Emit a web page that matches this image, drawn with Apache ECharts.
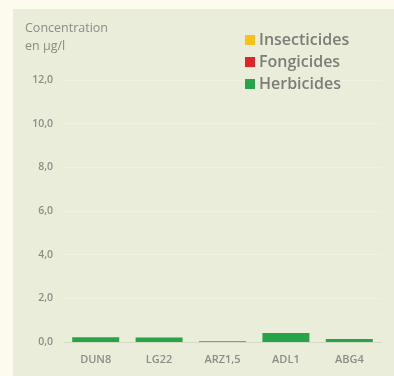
<!DOCTYPE html>
<html>
<head>
<meta charset="utf-8">
<script src="https://cdn.jsdelivr.net/npm/echarts@6/dist/echarts.min.js"></script>
<style>
  html, body { margin: 0; padding: 0; background: #fdfbee; }
  #chart { width: 394px; height: 376px; }
</style>
</head>
<body>
<div id="chart"></div>
<script>
// Sampling sites and measured concentrations (µg/l) per pesticide family
const categories = ['DUN8', 'LG22', 'ARZ1,5', 'ADL1', 'ABG4'];
const insecticides = [0, 0, 0, 0, 0];
const fongicides = [0, 0, 0, 0, 0];
const herbicides = [0.22, 0.21, 0.04, 0.41, 0.14];
const yTicks = [0, 2, 4, 6, 8, 10, 12];

const chart = echarts.init(document.getElementById('chart'), null, { renderer: 'canvas' });

const fmt = v => v.toFixed(1).replace('.', ',');

chart.setOption({
  backgroundColor: '#fdfbee',
  animation: false,
  textStyle: { fontFamily: 'Open Sans' },
  graphic: [{
    type: 'rect',
    z: -10,
    silent: true,
    shape: { x: 13, y: 9, width: 381, height: 367 },
    style: { fill: '#e9edda' }
  }],
  title: {
    text: 'Concentration\nen µg/l',
    left: 20,
    top: 14,
    textStyle: { fontSize: 12.5, fontWeight: 'normal', color: '#8a8d84', lineHeight: 18, fontFamily: 'Open Sans' }
  },
  legend: {
    orient: 'vertical',
    left: 240,
    top: 27,
    itemWidth: 10,
    itemHeight: 10,
    itemGap: 6,
    icon: 'rect',
    textStyle: { fontSize: 16, fontWeight: 600, color: '#7b7d78', fontFamily: 'Open Sans', padding: [0, 0, 0, -1] },
    data: ['Insecticides', 'Fongicides', 'Herbicides']
  },
  grid: { left: 64, right: 13, top: 80, bottom: 34 },
  xAxis: {
    type: 'category',
    data: categories,
    axisLine: { lineStyle: { color: '#d3dbc6', width: 1 } },
    axisTick: { show: false },
    axisLabel: { color: '#8b8e86', fontSize: 11, fontWeight: 600, margin: 12 }
  },
  yAxis: {
    type: 'value',
    min: yTicks[0],
    max: yTicks[yTicks.length - 1],
    interval: 2,
    axisLine: { show: false },
    axisTick: { show: false },
    axisLabel: { color: '#8b8e86', fontSize: 10.5, fontWeight: 600, margin: 11, formatter: fmt },
    splitLine: { lineStyle: { color: '#eff2e3', width: 1 } }
  },
  series: [
    { name: 'Insecticides', type: 'bar', stack: 'total', data: insecticides, barWidth: 47, itemStyle: { color: '#f6c21a' } },
    { name: 'Fongicides', type: 'bar', stack: 'total', data: fongicides, barWidth: 47, itemStyle: { color: '#e42328' } },
    { name: 'Herbicides', type: 'bar', stack: 'total', data: herbicides, barWidth: 47, itemStyle: { color: '#27a447' } }
  ]
});
</script>
</body>
</html>
